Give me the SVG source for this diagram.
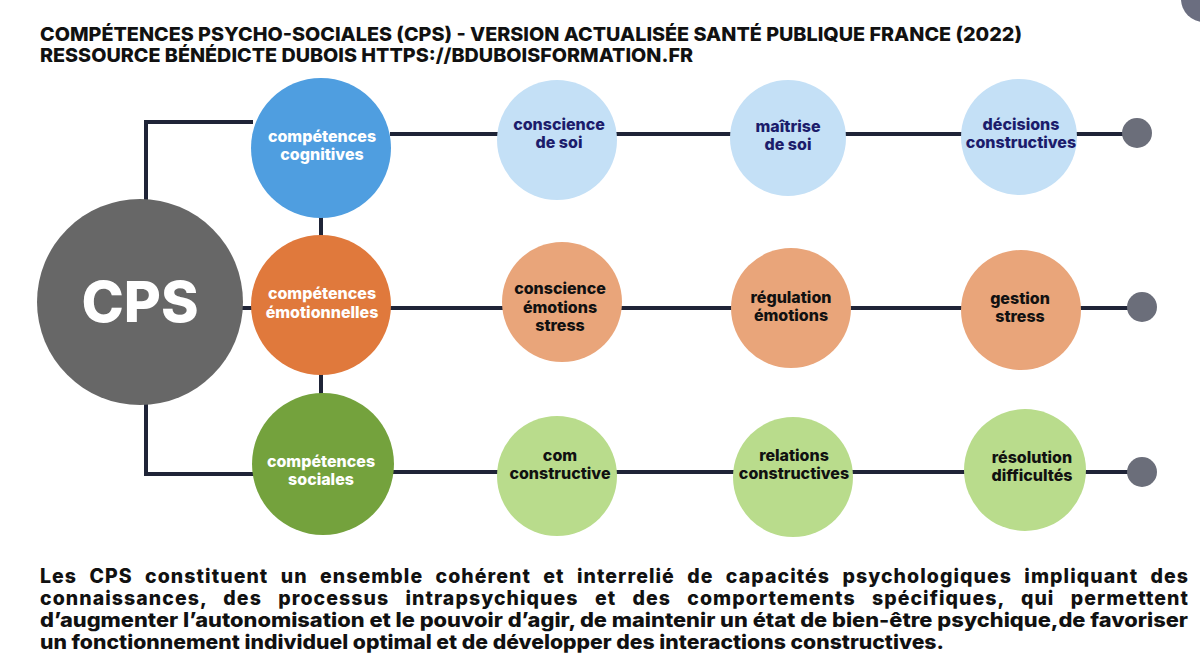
<svg xmlns="http://www.w3.org/2000/svg" width="1200" height="660" viewBox="0 0 1200 660">
<style>
.t{font-family:Inter,"Open Sans","Liberation Sans",sans-serif;font-weight:800}
.head{font-size:19px;fill:#111}
.para{font-size:19.5px;fill:#111}
.lbl{font-size:16px;text-anchor:middle}
.w{fill:#fff}
.nv{fill:#1c1c6b}
.bk{fill:#111}
.con{fill:none;stroke:#1f2437;stroke-width:4}
.dot{fill:#6b6e7a}
</style>
<rect width="1200" height="660" fill="#fff"/>
<circle cx="1204" cy="-1" r="23" fill="#6b6e80"/>
<text class="t head" x="40" y="41" textLength="982" lengthAdjust="spacingAndGlyphs">COMPÉTENCES PSYCHO-SOCIALES (CPS) - VERSION ACTUALISÉE SANTÉ PUBLIQUE FRANCE (2022)</text>
<text class="t head" x="40" y="62" textLength="653" lengthAdjust="spacingAndGlyphs">RESSOURCE BÉNÉDICTE DUBOIS HTTPS://BDUBOISFORMATION.FR</text>
<g id="connectors">
<path class="con" d="M146 200 V122 H253"/>
<path class="con" d="M242 308 H253"/>
<path class="con" d="M146 404 V474 H254"/>
<path class="con" d="M321 216 V237"/>
<path class="con" d="M321 373 V395"/>
<path class="con" d="M390 134 H1137"/>
<path class="con" d="M390 308 H1142"/>
<path class="con" d="M393 472 H1142"/>
</g>
<g id="cps"><circle cx="140" cy="302" r="103" fill="#676767"/><text class="t" x="140" y="322" font-size="57" fill="#fff" text-anchor="middle">CPS</text></g>
<g id="cognitives"><circle cx="321" cy="148" r="70" fill="#4f9ee0"/><text class="t lbl w" x="322" y="142">compétences</text><text class="t lbl w" x="322" y="160">cognitives</text></g>
<g id="emotionnelles"><circle cx="321" cy="305" r="70" fill="#e0793c"/><text class="t lbl w" x="322" y="299">compétences</text><text class="t lbl w" x="322" y="318">émotionnelles</text></g>
<g id="sociales"><circle cx="323" cy="464" r="71" fill="#74a23d"/><text class="t lbl w" x="321" y="467">compétences</text><text class="t lbl w" x="321" y="485">sociales</text></g>
<g id="conscience-soi"><circle cx="557" cy="140" r="60" fill="#c4e0f6"/><text class="t lbl nv" x="559" y="130">conscience</text><text class="t lbl nv" x="559" y="148">de soi</text></g>
<g id="maitrise-soi"><circle cx="788" cy="138" r="58" fill="#c4e0f6"/><text class="t lbl nv" x="788" y="132">maîtrise</text><text class="t lbl nv" x="788" y="150">de soi</text></g>
<g id="decisions"><circle cx="1019" cy="137" r="58" fill="#c4e0f6"/><text class="t lbl nv" x="1021" y="130">décisions</text><text class="t lbl nv" x="1021" y="148">constructives</text></g>
<g id="dot1"><circle class="dot" cx="1137" cy="133" r="15"/></g>
<g id="conscience-emotions"><circle cx="562" cy="302" r="60" fill="#e9a57a"/><text class="t lbl bk" x="560" y="294">conscience</text><text class="t lbl bk" x="560" y="313">émotions</text><text class="t lbl bk" x="560" y="331">stress</text></g>
<g id="regulation"><circle cx="791" cy="308" r="60" fill="#e9a57a"/><text class="t lbl bk" x="791" y="303">régulation</text><text class="t lbl bk" x="791" y="321">émotions</text></g>
<g id="gestion"><circle cx="1021" cy="310" r="60" fill="#e9a57a"/><text class="t lbl bk" x="1020" y="304">gestion</text><text class="t lbl bk" x="1020" y="322">stress</text></g>
<g id="dot2"><circle class="dot" cx="1142" cy="307" r="15"/></g>
<g id="com"><circle cx="557" cy="476" r="60" fill="#b9dc8c"/><text class="t lbl bk" x="560" y="461">com</text><text class="t lbl bk" x="560" y="479">constructive</text></g>
<g id="relations"><circle cx="793" cy="477" r="60" fill="#b9dc8c"/><text class="t lbl bk" x="794" y="461">relations</text><text class="t lbl bk" x="794" y="479">constructives</text></g>
<g id="resolution"><circle cx="1025" cy="470" r="61" fill="#b9dc8c"/><text class="t lbl bk" x="1032" y="463">résolution</text><text class="t lbl bk" x="1032" y="481">difficultés</text></g>
<g id="dot3"><circle class="dot" cx="1142" cy="472" r="15"/></g>
<text class="t para" x="40" y="583" word-spacing="7" textLength="1148" lengthAdjust="spacing">Les CPS constituent un ensemble cohérent et interrelié de capacités psychologiques impliquant des</text>
<text class="t para" x="40" y="605" word-spacing="11" textLength="1148" lengthAdjust="spacing">connaissances, des processus intrapsychiques et des comportements spécifiques, qui permettent</text>
<text class="t para" x="40" y="627" textLength="1148" lengthAdjust="spacingAndGlyphs">d’augmenter l’autonomisation et le pouvoir d’agir, de maintenir un état de bien-être psychique,de favoriser</text>
<text class="t para" x="40" y="649" textLength="904" lengthAdjust="spacingAndGlyphs">un fonctionnement individuel optimal et de développer des interactions constructives.</text>
</svg>
